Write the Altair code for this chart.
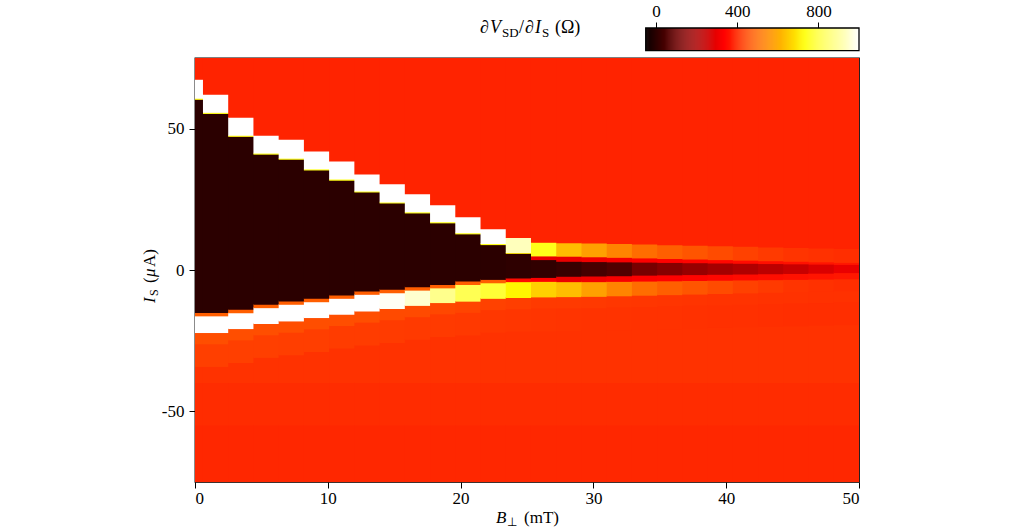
import altair as alt
import pandas as pd
import numpy as np

# ---------------- data ----------------
# column edges along B (mT)
B_edges = [0.0, 0.6, 2.5, 4.4, 6.3, 8.2, 10.1, 12.0, 13.9, 15.8, 17.7, 19.6, 21.5,
           23.4, 25.3, 27.2, 29.1, 31.0, 32.9, 34.8, 36.7, 38.6, 40.5, 42.4, 44.3,
           46.2, 48.1, 50.0]

# upper switching band (µA) and its dV/dI (Ohm)
ub_top = [67.3, 62.0, 53.9, 47.5, 46.1, 41.9, 38.4, 33.8, 30.3, 26.8, 22.9, 18.7, 14.4,
          11.3, 9.6, 9.5, 9.4, 9.2, 9.0, 8.8, 8.6, 8.4, 8.2, 8.0, 7.8, 7.6, 7.4]
ub_bot = [60.6, 55.6, 47.5, 41.2, 39.4, 35.6, 32.0, 27.8, 23.9, 20.4, 16.9, 13.0, 9.2,
          6.0, 4.8, 4.7, 4.5, 4.3, 4.1, 3.9, 3.7, 3.5, 3.3, 3.1, 2.9, 2.7, 2.5]
ub_val = [1050, 1050, 1050, 1050, 1050, 1050, 1050, 1050, 1050, 1050, 1050, 1050, 1020,
          930, 760, 630, 585, 540, 505, 482, 467, 451, 435, 424, 415, 410, 405]

# edge between upper band and the superconducting core
uf_val = [760, 760, 760, 760, 760, 760, 760, 760, 760, 760, 760, 760, 760,
          700, 300, 300, 310, 320, 330, 335, 340, 345, 350, 355, 360, 365, 370]

# superconducting core (low resistance)
core_top = [60.2, 55.2, 47.1, 40.8, 39.0, 35.2, 31.6, 27.4, 23.5, 20.0, 16.5, 12.6, 8.8,
            5.7, 3.5, 2.9, 2.8, 2.7, 2.6, 2.5, 2.4, 2.3, 2.2, 2.1, 2.0, 1.9, 1.8]
core_bot = [-15.2, -15.2, -14.1, -12.3, -11.1, -10.2, -9.0, -7.6, -7.0, -6.1, -5.3, -4.1,
            -3.5, -3.0, -2.8, -2.4, -2.3, -2.2, -2.0, -1.9, -1.8, -1.7, -1.6, -1.5, -1.4,
            -1.3, -1.1]
core_val = [0, 0, 0, 0, 0, 0, 0, 0, 0, 0, 0, 0, 0,
            5, 10, 20, 43, 60, 120, 145, 170, 190, 208, 228, 247, 275, 300]

# edge between core and lower band
lf_val = [480, 480, 480, 480, 480, 480, 480, 480, 480, 480, 480, 480, 480,
          350, 330, 300, 310, 320, 330, 335, 340, 345, 350, 355, 360, 365, 370]

# lower (retrapping) band
lb_top = [-16.4, -16.4, -15.3, -13.5, -12.3, -11.4, -10.2, -8.8, -8.2, -7.3, -6.5, -5.3,
          -4.7, -4.3, -4.2, -4.3, -4.3, -4.2, -4.1, -4.0, -3.9, -3.8, -3.7, -3.6, -3.5,
          -3.4, -3.3]
lb_bot = [-22.3, -22.3, -20.9, -19.1, -18.2, -17.0, -15.8, -14.7, -13.8, -12.7, -11.7,
          -11.2, -10.2, -9.9, -9.7, -9.6, -9.5, -9.3, -9.1, -8.9, -8.7, -8.5, -8.3, -8.1,
          -7.9, -7.7, -7.5]
lb_val = [1050, 1050, 1050, 1050, 1050, 1050, 1050, 1030, 990, 950, 880, 820, 790,
          720, 660, 630, 585, 540, 505, 482, 467, 451, 435, 424, 415, 410, 405]

# normal-state background
top_bg = [388] * 27
low_near = [455, 455, 455, 455, 455, 455, 455, 455, 450, 450, 445, 440, 435,
            430, 425, 425, 422, 420, 418, 416, 415, 414, 413, 412, 411, 410, 410]
low_near2 = [432, 432, 432, 432, 430, 430, 428, 428, 426, 425, 424, 422, 420,
             418, 416, 415, 414, 413, 412, 411, 410, 409, 408, 407, 406, 405, 405]
low_mid = [412] * 27
low_mid2 = [403] * 27
low_far = [395] * 27
NEAR_H = 4.0
NEAR2_H = 12.0
LOW_SPLIT = -40.0
LOW_SPLIT2 = -55.0
I_MIN, I_MAX = -75.0, 75.0

x_ticks = [0, 10, 20, 30, 40, 50]
y_ticks = [-50, 0, 50]
cb_ticks = [0, 400, 800]
V_MIN, V_MAX = -50, 1000

# ---------------- build cells (bottom to top, small overlap hides seams) ----------------
OV_B, OV_I = 0.12, 0.25
rows = []
for c in range(len(B_edges) - 1):
    b0, b1 = B_edges[c], B_edges[c + 1]
    segs = [
        (I_MIN, LOW_SPLIT2, low_far[c]),
        (LOW_SPLIT2, LOW_SPLIT, low_mid2[c]),
        (LOW_SPLIT, lb_bot[c] - NEAR2_H, low_mid[c]),
        (lb_bot[c] - NEAR2_H, lb_bot[c] - NEAR_H, low_near2[c]),
        (lb_bot[c] - NEAR_H, lb_bot[c], low_near[c]),
        (lb_bot[c], lb_top[c], lb_val[c]),
        (lb_top[c], core_bot[c], lf_val[c]),
        (core_bot[c], core_top[c], core_val[c]),
        (core_top[c], ub_bot[c], uf_val[c]),
        (ub_bot[c], ub_top[c], ub_val[c]),
        (ub_top[c], I_MAX, top_bg[c]),
    ]
    for lo, hi, v in segs:
        if hi > lo:
            rows.append(dict(b0=b0, b1=min(b1 + OV_B, 50.0), i0=lo,
                             i1=min(hi + OV_I, I_MAX), R=v))
cells = pd.DataFrame(rows)
cells["order"] = np.arange(len(cells))

step = 5
cv = np.arange(V_MIN, V_MAX, step)
cbar = pd.DataFrame({"v0": cv, "v1": cv + step + 1, "v": cv + step / 2})
cbar.loc[cbar.index[-1], "v1"] = V_MAX

# "hot" colormap
hot_domain = [V_MIN, V_MIN + 0.365079 * (V_MAX - V_MIN), V_MIN + 0.746032 * (V_MAX - V_MIN), V_MAX]
hot_range = ["#0b0000", "#ff0000", "#ffff00", "#ffffff"]
cscale = alt.Scale(domain=hot_domain, range=hot_range, clamp=True, interpolate="rgb")

FONT = "Liberation Serif"
FS = 17

main = alt.Chart(cells).mark_rect(clip=True).encode(
    x=alt.X("b0:Q", scale=alt.Scale(domain=[0, 50], nice=False, zero=False),
            axis=alt.Axis(values=x_ticks, title=None, orient="bottom", labelPadding=2)),
    x2="b1:Q",
    y=alt.Y("i0:Q", scale=alt.Scale(domain=[I_MIN, I_MAX], nice=False, zero=False),
            axis=alt.Axis(values=y_ticks, title=None, labelExpr="toString(datum.value)",
                          labelPadding=5)),
    y2="i1:Q",
    color=alt.Color("R:Q", scale=cscale, legend=None),
    order=alt.Order("order:Q"),
)

cb_rect = alt.Chart(cbar).mark_rect().encode(
    x=alt.X("v0:Q", scale=alt.Scale(domain=[-2269, V_MAX], nice=False, zero=False),
            axis=alt.Axis(values=cb_ticks, orient="top", offset=30, title=None,
                          labelPadding=2, domain=False, grid=False)),
    x2="v1:Q",
    y=alt.value(-30),
    y2=alt.value(-7.3),
    color=alt.Color("v:Q", scale=cscale, legend=None),
)
cb_frame = alt.Chart(pd.DataFrame({"a": [V_MIN], "b": [V_MAX]})).mark_rect(
    filled=False, stroke="black", strokeWidth=1.3
).encode(x="a:Q", x2="b:Q", y=alt.value(-30), y2=alt.value(-7.3))
cb_layer = alt.layer(cb_rect, cb_frame)


def txt(s, x, y, size=FS, style="normal", angle=0):
    return alt.Chart(alt.Data(values=[{"k": 1}])).mark_text(
        text=s, font=FONT, fontSize=size, fontStyle=style, angle=angle,
        align="left", baseline="alphabetic", color="black"
    ).encode(x=alt.value(x), y=alt.value(y))


texts = [
    # colour bar title  dV_SD/dI_S (Ohm)
    txt("∂", 285, -25, size=18, style="italic"),
    txt("V", 295, -25, size=18, style="italic"),
    txt("SD", 307, -21.5, size=13),
    txt("/", 324, -25, size=18),
    txt("∂", 330, -25, size=18, style="italic"),
    txt("I", 340, -25, size=18, style="italic"),
    txt("S", 347, -21.5, size=13),
    txt("(Ω)", 360, -25, size=18),
    # x title  B_perp (mT)
    txt("B", 301, 465, style="italic"),
    txt("⊥", 312, 468, size=12),
    txt("(mT)", 329, 465),
    # y title  I_S (µA)
    txt("I", -40.5, 245, style="italic", angle=270),
    txt("S", -37, 238, size=12, angle=270),
    txt("(", -40.5, 225, angle=270),
    txt("μ", -40.5, 219, style="italic", angle=270),
    txt("A)", -40.5, 209, angle=270),
]

chart = alt.layer(main, cb_layer, *texts).resolve_scale(x="independent").properties(
    width=664, height=424,
    autosize=alt.AutoSizeParams(type="none"),
    padding={"left": 195, "top": 58, "right": 154, "bottom": 47},
    background="white",
).configure_view(stroke="black", strokeWidth=1.3, fill="#ff2300").configure_axis(
    labelFont=FONT, labelFontSize=FS, labelColor="black", tickColor="black",
    tickSize=6, tickWidth=1, grid=False, domain=False,
)

chart.save("out.html", embed_options={"renderer": "svg", "actions": False})
